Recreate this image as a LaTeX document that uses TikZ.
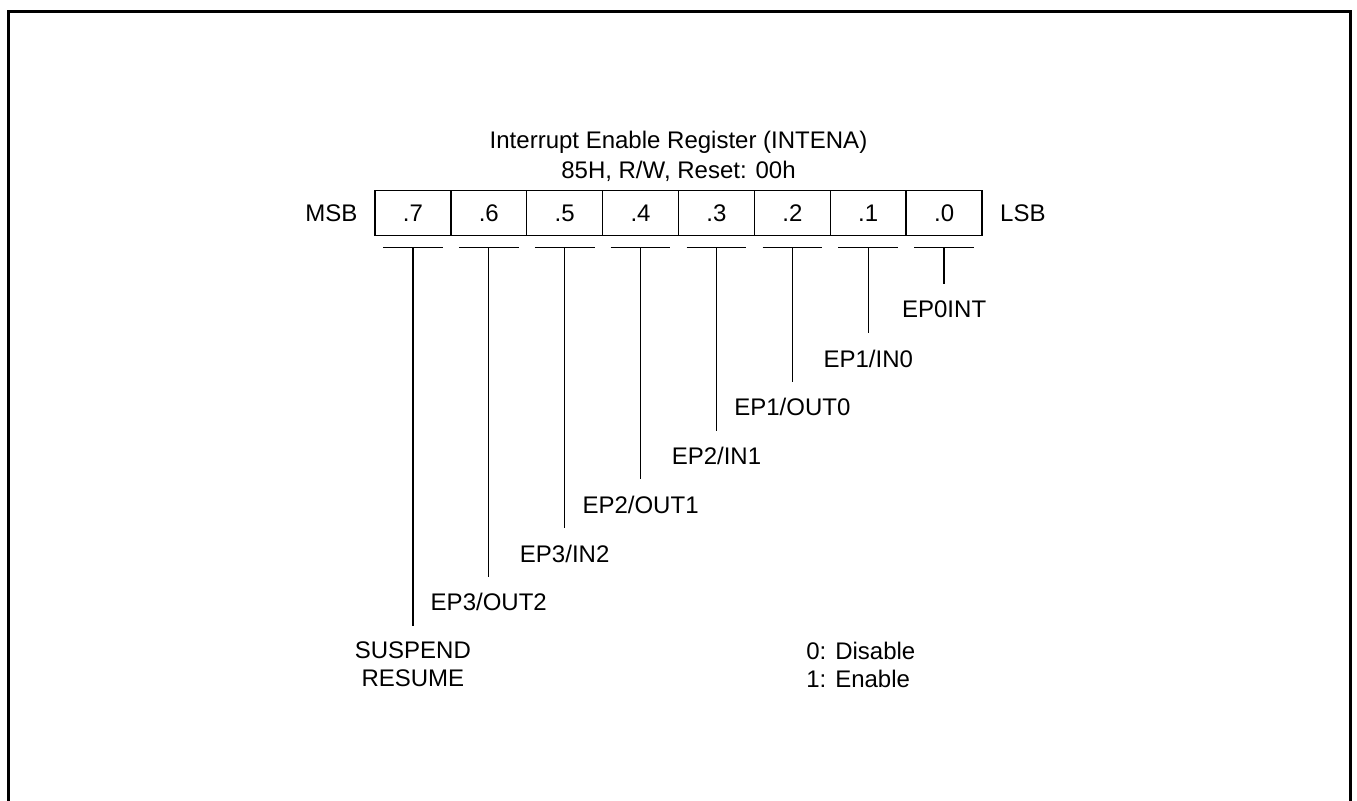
\documentclass[tikz,border=0pt]{standalone}
\usepackage{fontspec}
\setmainfont{Liberation Sans}
\usepackage{tikz}
\usetikzlibrary{positioning}
\tikzset{
  bitcell/.style={
    draw, line width=0.8pt, minimum width=1.5cm, minimum height=0.89cm,
    inner sep=0pt, outer sep=0pt
  },
  field/.style={inner xsep=0pt, inner ysep=0.32cm, align=center},
  side/.style={inner sep=0pt},
  bus/.style={line width=0.8pt},
}

\begin{document}
\begin{tikzpicture}[
  font=\fontsize{13.5pt}{15.5pt}\selectfont,
  frame/.style={line width=1.6pt}
]
  \useasboundingbox (0,0) rectangle (26.82,15.83);
  \draw[frame] (0.17,-0.1) -- (0.17,15.61) -- (26.69,15.61) -- (26.69,-0.1);
  \node[align=center, font=\fontsize{13.5pt}{17.4pt}\selectfont] (title) at (13.41,12.74) {Interrupt Enable Register (INTENA)\\85H, R/W, Reset: 00h};
  \node[bitcell] (b7) at (8.16,11.62) {.7};
  \node[bitcell, right=0pt of b7] (b6) {.6};
  \node[bitcell, right=0pt of b6] (b5) {.5};
  \node[bitcell, right=0pt of b5] (b4) {.4};
  \node[bitcell, right=0pt of b4] (b3) {.3};
  \node[bitcell, right=0pt of b3] (b2) {.2};
  \node[bitcell, right=0pt of b2] (b1) {.1};
  \node[bitcell, right=0pt of b1] (b0) {.0};
  \node[side, left=0.34cm of b7] (msb) {MSB};
  \node[side, right=0.35cm of b0] (lsb) {LSB};
  \draw[bus] ([xshift=-0.59cm,yshift=-0.24cm]b7.south) -- ++(1.18,0);
  \draw[bus] ([xshift=-0.59cm,yshift=-0.24cm]b6.south) -- ++(1.18,0);
  \draw[bus] ([xshift=-0.59cm,yshift=-0.24cm]b5.south) -- ++(1.18,0);
  \draw[bus] ([xshift=-0.59cm,yshift=-0.24cm]b4.south) -- ++(1.18,0);
  \draw[bus] ([xshift=-0.59cm,yshift=-0.24cm]b3.south) -- ++(1.18,0);
  \draw[bus] ([xshift=-0.59cm,yshift=-0.24cm]b2.south) -- ++(1.18,0);
  \draw[bus] ([xshift=-0.59cm,yshift=-0.24cm]b1.south) -- ++(1.18,0);
  \draw[bus] ([xshift=-0.59cm,yshift=-0.24cm]b0.south) -- ++(1.18,0);
  \node[field, below=0.96cm of b0] (ep0int) {EP0INT};
  \node[field, below=1.93cm of b1] (ep1in) {EP1/IN0};
  \node[field, below=2.89cm of b2] (ep1out) {EP1/OUT0};
  \node[field, below=3.86cm of b3] (ep2in) {EP2/IN1};
  \node[field, below=4.82cm of b4] (ep2out) {EP2/OUT1};
  \node[field, below=5.79cm of b5] (ep3in) {EP3/IN2};
  \node[field, below=6.75cm of b6] (ep3out) {EP3/OUT2};
  \node[field, below=7.71cm of b7] (susp) {SUSPEND\\RESUME};
  \draw[bus] ([yshift=-0.24cm]b0.south) -- (ep0int);
  \draw[bus] ([yshift=-0.24cm]b1.south) -- (ep1in);
  \draw[bus] ([yshift=-0.24cm]b2.south) -- (ep1out);
  \draw[bus] ([yshift=-0.24cm]b3.south) -- (ep2in);
  \draw[bus] ([yshift=-0.24cm]b4.south) -- (ep2out);
  \draw[bus] ([yshift=-0.24cm]b5.south) -- (ep3in);
  \draw[bus] ([yshift=-0.24cm]b6.south) -- (ep3out);
  \draw[bus] ([yshift=-0.24cm]b7.south) -- (susp);
  \node[side, align=left, anchor=west] (legend) at (15.93,2.69) {0: Disable\\1: Enable};
\end{tikzpicture}
\end{document}
